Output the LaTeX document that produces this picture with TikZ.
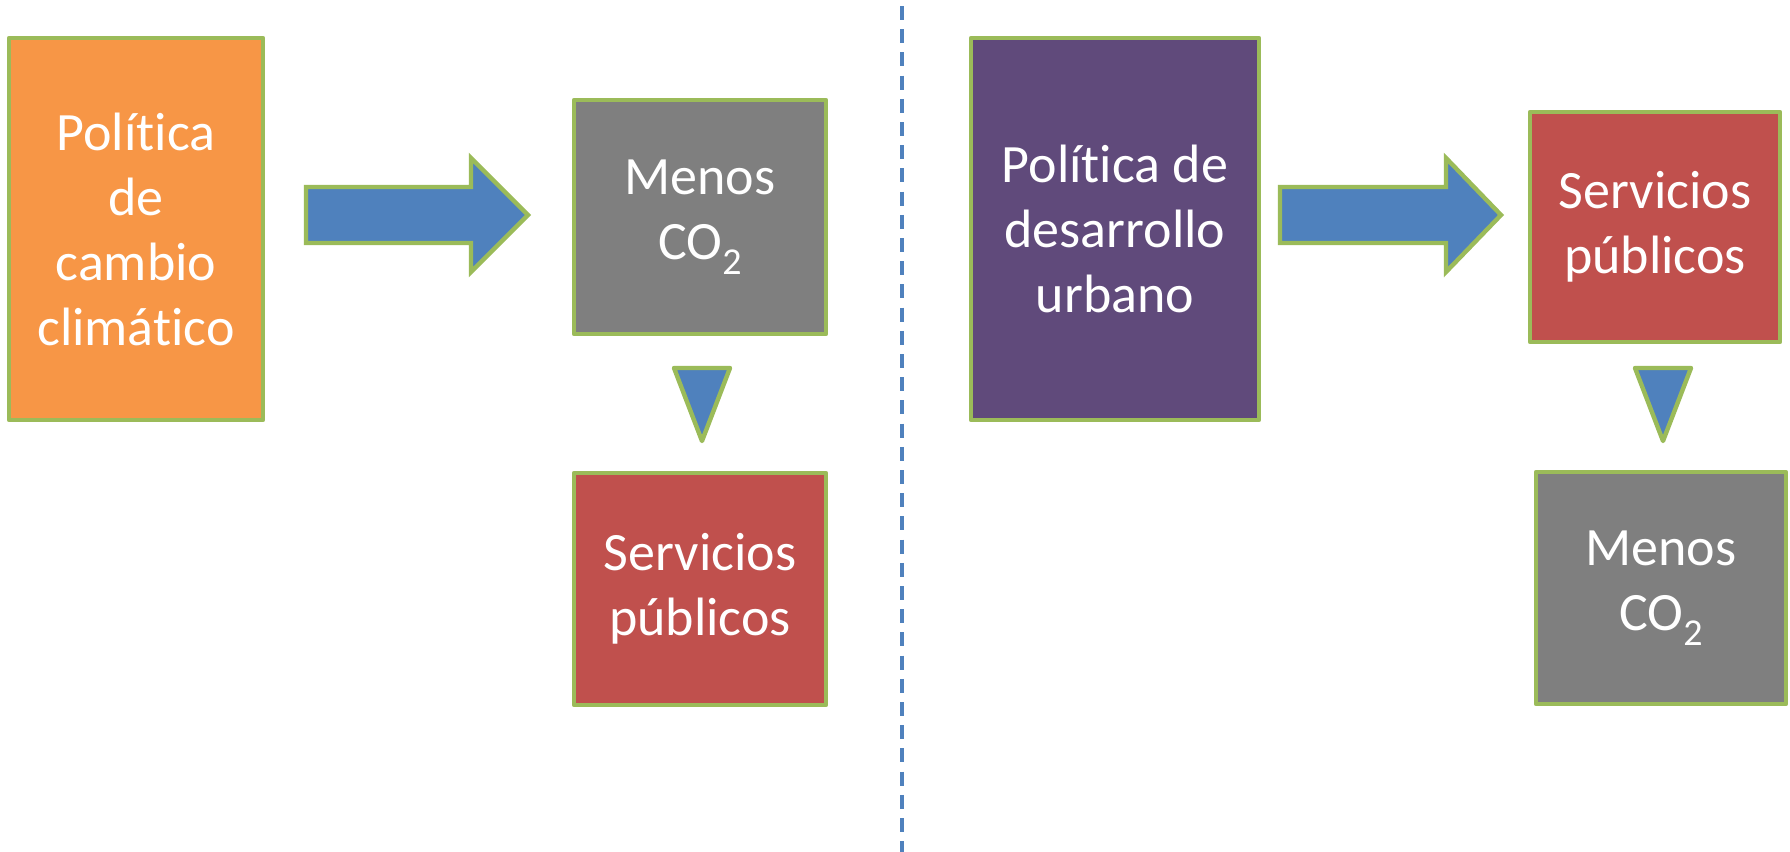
\documentclass[tikz,border=0pt]{standalone}
\usepackage{fontspec}
\setmainfont{Carlito}[Ligatures={NoCommon,NoRare,NoContextual}]
\definecolor{verde}{HTML}{9BBB59}
\definecolor{naranja}{HTML}{F79646}
\definecolor{gris}{HTML}{7F7F7F}
\definecolor{rojo}{HTML}{C0504D}
\definecolor{morado}{HTML}{604A7B}
\definecolor{azul}{HTML}{4F81BD}
\newcommand{\cosub}{CO\raisebox{-7.5pt}{\fontsize{19}{19}\selectfont 2}}
\begin{document}
\begin{tikzpicture}[x=0.5pt,y=-0.5pt,
    caja/.style={draw=verde,line width=2.2pt,line join=round,text=white,align=center,inner sep=0pt,
        font=\fontsize{27}{32.5}\selectfont},
    flecha/.style={draw=verde,line width=2.2pt,fill=azul}]
    \useasboundingbox (0,0) rectangle (1790,852);

    \node[caja,fill=naranja,minimum width=127pt,minimum height=191pt] (clima) at (136,229) {Polít\kern0pt ica\\de\\cambio\\climático};
    \node[caja,fill=gris,minimum width=126pt,minimum height=117pt] (menosA) at (700,217) {Menos\\\cosub};
    \node[caja,fill=rojo,minimum width=126pt,minimum height=116pt] (serviciosA) at (700,589) {Servicios\\públicos};

    \node[caja,fill=morado,minimum width=144pt,minimum height=191pt] (urbano) at (1115,229) {Polít\kern0pt ica de\\desarrollo\\urbano};
    \node[caja,fill=rojo,minimum width=125pt,minimum height=115pt] (serviciosB) at (1655,227) {Servicios\\públicos};
    \node[caja,fill=gris,minimum width=125pt,minimum height=116pt] (menosB) at (1661,588) {Menos\\\cosub};

    \draw[flecha](306,187) -- (471,187) -- (471,158) -- (528,215) -- (471,272) -- (471,243) -- (306,243) -- cycle;
    \draw[flecha](1280,187) -- (1446,187) -- (1446,158) -- (1501,215) -- (1446,272) -- (1446,243) -- (1280,243) -- cycle;

    \draw[flecha,line join=round](674,368) -- (730,368) -- (702,441) -- cycle;
    \draw[flecha,line join=round](1635,368) -- (1691,368) -- (1663,441) -- cycle;

    \draw[azul,line width=1.6pt,dash pattern=on 7pt off 4.6pt](902,6) -- (902,852);
\end{tikzpicture}
\end{document}
